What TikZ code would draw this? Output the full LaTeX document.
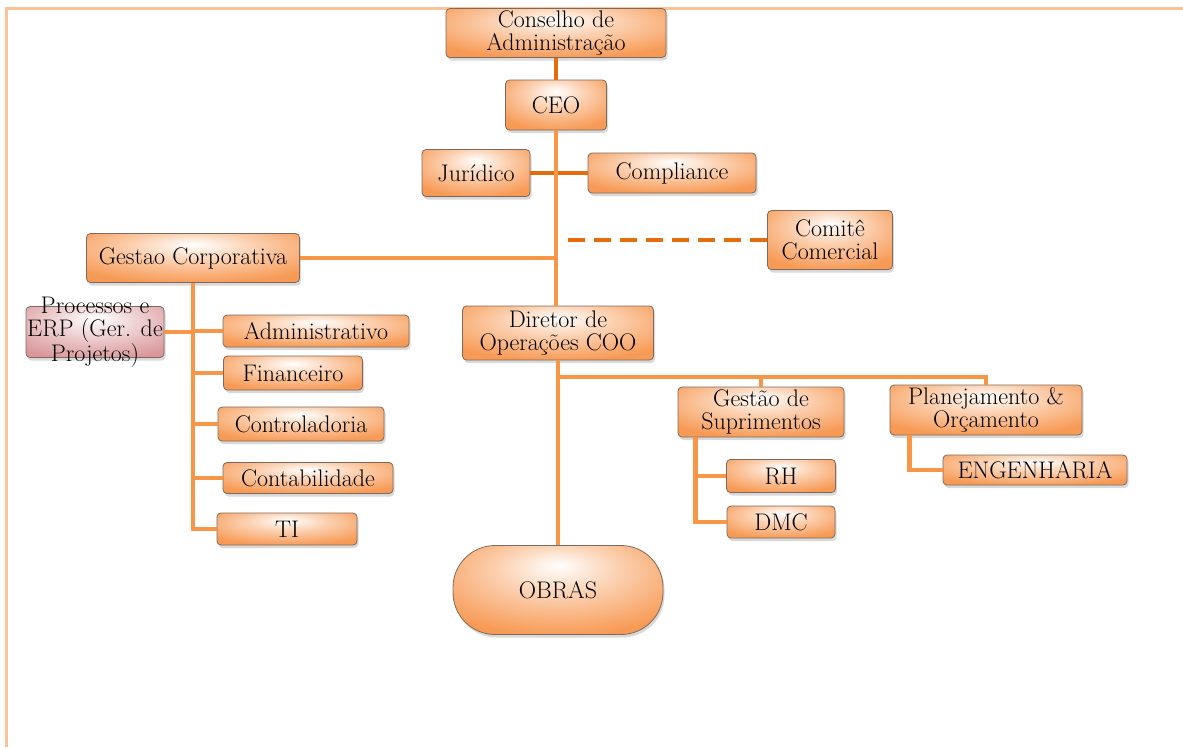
\documentclass[tikz,border=0pt]{standalone}
\usepackage{fontspec}
\usepackage{xcolor}
\usepackage{tikz}
\usetikzlibrary{shadows}

\definecolor{boxorange}{HTML}{F79A55}
\definecolor{boxpink}{HTML}{D9979A}
\definecolor{boxline}{HTML}{7D6A5C}
\definecolor{linkorange}{HTML}{F79646}
\definecolor{darkorange}{HTML}{E46C0A}
\definecolor{frameorange}{HTML}{FBC498}

\pgfdeclareradialshading{boxglow}{\pgfpoint{0bp}{14bp}}{color(0bp)=(white); color(14bp)=(boxorange!45); color(34bp)=(boxorange); color(80bp)=(boxorange)}
\pgfdeclareradialshading{procglow}{\pgfpoint{0bp}{14bp}}{color(0bp)=(white); color(14bp)=(boxpink!40); color(36bp)=(boxpink); color(80bp)=(boxpink)}

\newcommand{\boxfont}{\fontsize{24}{23}\selectfont}

\begin{document}
\begin{tikzpicture}[x=1pt, y=-1pt,
    orgbox/.style={shading=boxglow, draw=boxline, line width=0.8pt, rounded corners=4pt,
        inner sep=0pt, align=center, font=\boxfont,
        drop shadow={shadow xshift=1.5pt, shadow yshift=-3pt, opacity=0.3}},
    procbox/.style={orgbox, shading=procglow},
    sz/.style 2 args={minimum width=#1, minimum height=#2},
    link/.style={linkorange, line width=4.5pt},
    toplink/.style={darkorange, line width=4.5pt},
    frameline/.style={frameorange, line width=3pt}]
    \useasboundingbox (0,0) rectangle (1183,747);
    % page frame
    \draw[frameline] (6,747) -- (6,8) -- (1183,8);

    % board and CEO
    \node[orgbox, sz={220}{49}] (cons) at (556,33) {Conselho de\\Administração};
    \node[orgbox, sz={101}{50}] (ceo) at (556,105) {CEO};
    \node[orgbox, sz={108}{47}] (jur) at (476,173) {Jurídico};
    \node[orgbox, sz={168}{40}] (comp) at (672,173) {Compliance};
    \node[orgbox, sz={125}{59}] (comite) at (830,240) {Comitê\\Comercial};

    % corporate side
    \node[orgbox, sz={213}{49}] (gc) at (193,258) {Gestao Corporativa};
    \node[procbox, sz={138}{51},
        label={[align=center, font=\boxfont, text=black]center:Processos e\\ERP (Ger. de\\Projetos)}] (proc) at (95,332) {};
    \node[orgbox, sz={186}{32}] (adm) at (316,331) {Administrativo};
    \node[orgbox, sz={139}{34}] (fin) at (293,373) {Financeiro};
    \node[orgbox, sz={166}{34}] (ctrl) at (301,424) {Controladoria};
    \node[orgbox, sz={170}{31}] (cont) at (308,478) {Contabilidade};
    \node[orgbox, sz={140}{32}] (ti) at (287,529) {TI};

    % operations side
    \node[orgbox, sz={191}{54}] (coo) at (558,333) {Diretor de\\Operações COO};
    \node[orgbox, sz={166}{50}] (sup) at (761,412) {Gestão de\\Suprimentos};
    \node[orgbox, sz={192}{50}] (plan) at (986,410) {Planejamento \&\\Orçamento};
    \node[orgbox, sz={109}{33}] (rh) at (781,476) {RH};
    \node[orgbox, sz={108}{32}] (dmc) at (781,522) {DMC};
    \node[orgbox, sz={184}{30}] (eng) at (1035,470) {ENGENHARIA};
    \node[orgbox, sz={210}{89}, rounded corners=42pt] (obras) at (558,590) {OBRAS};

    % connectors
    \draw[toplink] (cons) -- (ceo);
    \draw[toplink] (jur) -- (comp);
    \draw[link] (ceo.south) -- (ceo.south |- coo.north);
    \draw[link] (gc.east) -- (gc.east -| ceo.south);
    \draw[toplink, dash pattern=on 17pt off 9pt] (comite.west) -- ([xshift=7pt]comite.west -| ceo.south);

    \draw[link] (gc.south) -- (gc.south |- ti.west) -- (ti.west);
    \foreach \n in {adm,fin,ctrl,cont}
        \draw[link] (\n.west) -- (\n.west -| gc.south);
    \draw[link] (proc.east) -- (proc.east -| gc.south);

    \draw[link] (coo.south) -- (obras.north);
    \coordinate (cbus) at (558,377);
    \draw[link] (cbus) -- (cbus -| plan.north) -- (plan.north);
    \draw[link] (cbus -| sup.north) -- (sup.north);
    \coordinate (supdrop) at ([xshift=18pt]sup.south west);
    \draw[link] (supdrop) |- (dmc.west);
    \draw[link] (rh.west) -- (rh.west -| supdrop);
    \draw[link] ([xshift=20pt]plan.south west) |- (eng.west);
\end{tikzpicture}
\end{document}
